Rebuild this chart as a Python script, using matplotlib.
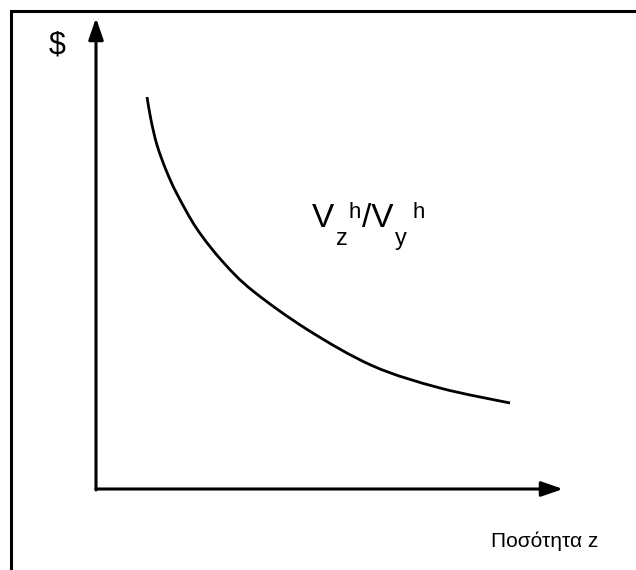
import matplotlib.pyplot as plt
from matplotlib.path import Path
from matplotlib.patches import PathPatch

plt.rcParams['font.family'] = ['Liberation Sans', 'DejaVu Sans']

# curve (pixel coords, y downward)
curve_x = [147, 151, 157, 166, 177, 197, 223, 253, 308, 373, 440, 510]
curve_y = [97, 120, 145, 170, 194, 229, 262, 291, 330, 366, 388, 403]

y_label = "$"
x_label = "Ποσότητα z"

fig = plt.figure(figsize=(6.36, 5.70), dpi=100)
ax = fig.add_axes([0, 0, 1, 1])
ax.set_xlim(0, 636)
ax.set_ylim(570, 0)
ax.axis('off')

# outer frame (clipped at right / bottom)
ax.plot([11, 11, 640], [575, 11, 11], color='black', lw=2.2,
        solid_joinstyle='miter')

# axes with arrows
arrow = dict(arrowstyle="-|>,head_length=1.3,head_width=0.45",
             color='black', lw=2.2, shrinkA=0, shrinkB=0)
ax.annotate("", xy=(96, 18), xytext=(96, 490), arrowprops=arrow)
ax.annotate("", xy=(563, 489), xytext=(96, 489), arrowprops=arrow)

# smooth curve through the read points (catmull-rom -> bezier)
pts = list(zip(curve_x, curve_y))
ext = [pts[0]] + pts + [pts[-1]]
verts = [pts[0]]
codes = [Path.MOVETO]
for i in range(1, len(ext) - 2):
    p0, p1, p2, p3 = ext[i - 1], ext[i], ext[i + 1], ext[i + 2]
    c1 = (p1[0] + (p2[0] - p0[0]) / 6, p1[1] + (p2[1] - p0[1]) / 6)
    c2 = (p2[0] - (p3[0] - p1[0]) / 6, p2[1] - (p3[1] - p1[1]) / 6)
    verts += [c1, c2, p2]
    codes += [Path.CURVE4] * 3
ax.add_patch(PathPatch(Path(verts, codes), fill=False, color='black',
                       lw=2.0, capstyle='butt'))

ax.text(57, 45, y_label, fontsize=22, ha='center', va='center')
ax.text(545, 541, x_label, fontsize=15, ha='center', va='center')

# V_z^h / V_y^h label built from pieces
ax.text(312, 227, "V", fontsize=24, va='baseline')
ax.text(336, 245, "z", fontsize=17, va='baseline')
ax.text(348, 218, "h", fontsize=16, va='baseline')
ax.text(362, 227, "/V", fontsize=24, va='baseline')
ax.text(395, 245, "y", fontsize=17, va='baseline')
ax.text(412, 218, "h", fontsize=16, va='baseline')

fig.savefig("out.png", dpi=100)
